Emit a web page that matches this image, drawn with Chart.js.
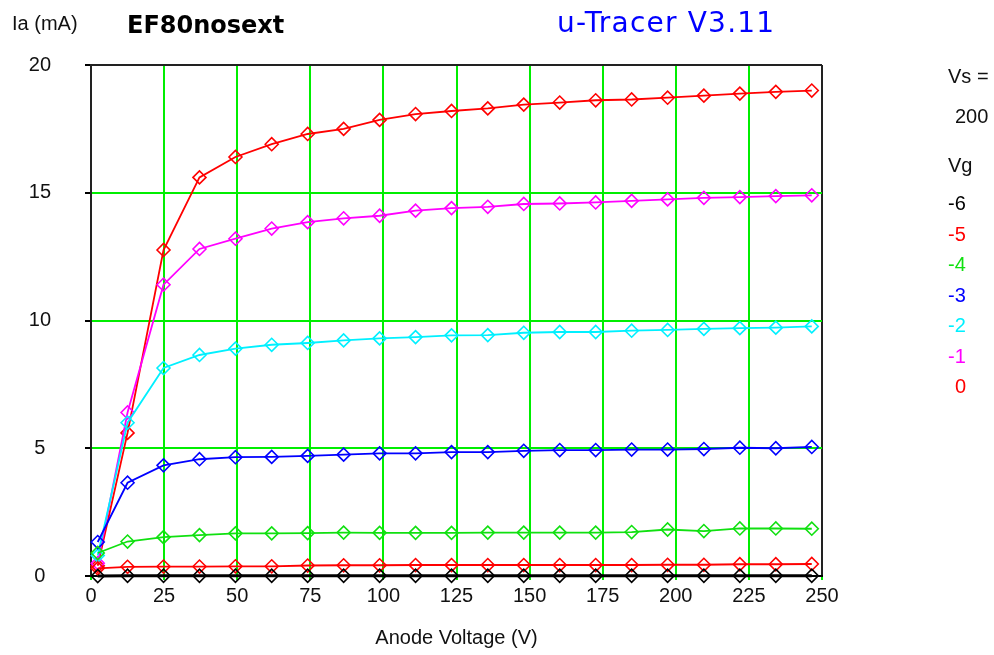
<!DOCTYPE html>
<html>
<head>
<meta charset="utf-8">
<script src="https://cdn.jsdelivr.net/npm/chart.js@4.4.1/dist/chart.umd.min.js"></script>
<style>
  html, body { margin: 0; padding: 0; background: #fff; }
  #wrap { position: relative; width: 994px; height: 655px; overflow: hidden; }
  #grafico { position: absolute; left: 0; top: 0; }
  .txt { position: absolute; white-space: nowrap; line-height: 1; font-family: "Liberation Sans", Arial, sans-serif; font-size: 20px; color: #111; }
</style>
</head>
<body>
<div id="wrap">
  <canvas id="grafico" width="994" height="655"></canvas>
  <div class="txt" style="left:12px; top:13px;">Ia (mA)</div>
  <div class="txt" style="left:127px; top:13px; font-family:'DejaVu Sans'; font-weight:bold; font-size:24px; color:#000;">EF80nosext</div>
  <div class="txt" style="left:557px; top:9px; font-family:'DejaVu Sans'; font-size:28px; color:#0000ff; letter-spacing:1.2px;">u-Tracer V3.11</div>
  <div class="txt" style="left:948px; top:66px;">Vs =</div>
  <div class="txt" style="left:955px; top:106px;">200</div>
  <div class="txt" style="left:948px; top:155px;">Vg</div>
  <div id="legenda"></div>
</div>
<script>
// anode voltage sweep (V)
const anodeVoltage = [2.3, 12.5, 24.8, 37.1, 49.4, 61.8, 74.1, 86.4, 98.7, 111.0, 123.3, 135.7, 148.0, 160.3, 172.6, 184.9, 197.2, 209.6, 221.9, 234.2, 246.5];

// anode current (mA) for each grid voltage
const ia_m6 = [0, 0.01, 0.01, 0.01, 0.01, 0.01, 0.01, 0.01, 0.01, 0.01, 0.01, 0.01, 0.01, 0.01, 0.01, 0.01, 0.01, 0.01, 0.01, 0.01, 0.01];
const ia_m5 = [0.3, 0.36, 0.37, 0.37, 0.38, 0.38, 0.41, 0.42, 0.42, 0.43, 0.43, 0.43, 0.43, 0.43, 0.43, 0.43, 0.44, 0.44, 0.46, 0.46, 0.47];
const ia_m4 = [0.9, 1.35, 1.52, 1.6, 1.67, 1.67, 1.68, 1.7, 1.69, 1.69, 1.69, 1.7, 1.7, 1.7, 1.7, 1.72, 1.82, 1.76, 1.86, 1.86, 1.85];
const ia_m3 = [1.33, 3.65, 4.33, 4.57, 4.65, 4.66, 4.7, 4.75, 4.8, 4.8, 4.85, 4.85, 4.9, 4.93, 4.93, 4.95, 4.95, 4.97, 5.02, 5.0, 5.05];
const ia_m2 = [0.8, 6.0, 8.14, 8.65, 8.9, 9.05, 9.12, 9.22, 9.3, 9.35, 9.42, 9.43, 9.52, 9.55, 9.55, 9.6, 9.63, 9.67, 9.7, 9.72, 9.77];
const ia_m1 = [0.5, 6.4, 11.4, 12.8, 13.2, 13.6, 13.85, 14.0, 14.1, 14.3, 14.4, 14.45, 14.56, 14.58, 14.62, 14.68, 14.74, 14.8, 14.83, 14.87, 14.9];
const ia_0 = [0.4, 5.6, 12.76, 15.6, 16.4, 16.9, 17.3, 17.5, 17.85, 18.08, 18.2, 18.3, 18.45, 18.53, 18.62, 18.65, 18.72, 18.8, 18.88, 18.95, 19.0];

const gridVoltages = ['-6', '-5', '-4', '-3', '-2', '-1', '0'];
const seriesColors = ['#000000', '#ff0000', '#10e010', '#0000ff', '#00f0ff', '#ff00ff', '#ff0000'];
const seriesValues = [ia_m6, ia_m5, ia_m4, ia_m3, ia_m2, ia_m1, ia_0];

const xTicks = [0, 25, 50, 75, 100, 125, 150, 175, 200, 225, 250];
const yTicks = [0, 5, 10, 15, 20];

const verde = '#00ee00';

// legenda do lado direito
const leg = document.getElementById('legenda');
gridVoltages.forEach((g, i) => {
    const d = document.createElement('div');
    d.className = 'txt';
    d.textContent = g;
    d.style.left = (g.startsWith('-') ? 948 : 955) + 'px';
    d.style.top = (193 + i * 30.5) + 'px';
    d.style.color = seriesColors[i];
    leg.appendChild(d);
});

const ctx = document.getElementById('grafico');

new Chart(ctx, {
    type: 'line',
    data: {
        datasets: seriesValues.map((vals, i) => ({
            label: 'Vg ' + gridVoltages[i],
            data: anodeVoltage.map((v, k) => ({ x: v, y: vals[k] })),
            borderColor: seriesColors[i],
            backgroundColor: 'transparent',
            borderWidth: i === 0 ? 3 : 1.8,
            pointStyle: 'rectRot',
            pointRadius: 6.5,
            pointBorderWidth: 1.6,
            pointBorderColor: seriesColors[i],
            pointBackgroundColor: 'transparent',
            tension: 0,
            clip: false
        }))
    },
    options: {
        responsive: false,
        animation: false,
        layout: { padding: { left: 0, top: 65, right: 172, bottom: 0 } },
        plugins: {
            legend: { display: false },
            tooltip: { enabled: false }
        },
        scales: {
            x: {
                type: 'linear',
                min: 0,
                max: 250,
                afterFit: s => { s.height = 79; },
                afterBuildTicks: s => { s.ticks = xTicks.map(v => ({ value: v })); },
                ticks: {
                    font: { family: 'Liberation Sans', size: 20 },
                    color: '#111',
                    padding: 4,
                    maxRotation: 0,
                    autoSkip: false
                },
                grid: {
                    color: c => (c.tick && c.tick.value === 250) ? '#222' : verde,
                    lineWidth: 2,
                    tickLength: 4,
                    tickColor: verde
                },
                border: { color: '#000', width: 2 },
                title: {
                    display: true,
                    text: 'Anode Voltage (V)',
                    font: { family: 'Liberation Sans', size: 20 },
                    color: '#111',
                    padding: { top: 0, bottom: 5 }
                }
            },
            y: {
                min: 0,
                max: 20,
                afterFit: s => { s.width = 91; },
                afterBuildTicks: s => { s.ticks = yTicks.map(v => ({ value: v })); },
                ticks: {
                    font: { family: 'Liberation Sans', size: 20 },
                    color: '#111',
                    crossAlign: 'center',
                    padding: 34
                },
                grid: {
                    color: c => (c.tick && c.tick.value === 20) ? '#222' : verde,
                    lineWidth: 2,
                    tickLength: 6,
                    tickColor: '#000'
                },
                border: { color: '#222', width: 2 }
            }
        }
    }
});
</script>
</body>
</html>
